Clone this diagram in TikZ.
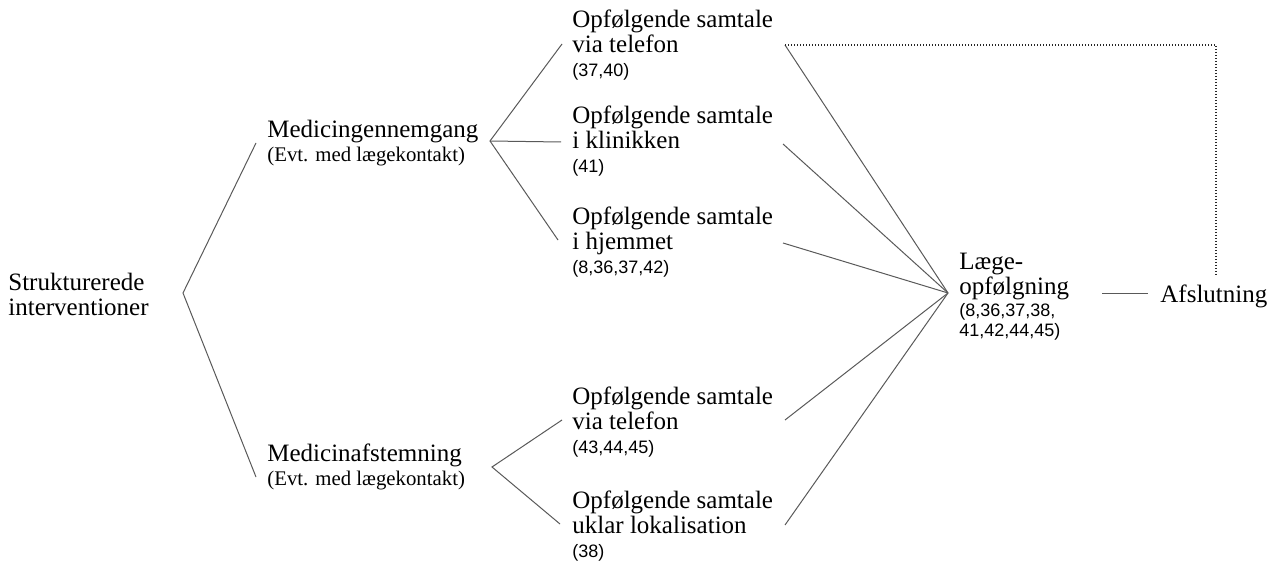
\documentclass[tikz,border=0pt]{standalone}
\usepackage{fontspec}
\setmainfont{Liberation Serif}
\setsansfont{Liberation Sans}
\usepackage{tikz}
\tikzset{
    txt/.style={anchor=base west, inner sep=0pt, align=left,
        font=\fontsize{12.5}{12.5}\selectfont},
    link/.style={draw=black!65, line width=0.5pt},
    back/.style={draw=black!85, line width=0.8pt, dash pattern=on 0.6pt off 0.9pt}
}
\newcommand*{\refs}{\sffamily\fontsize{9}{10}\selectfont}
\newcommand*{\evt}{\fontsize{10.4}{10}\selectfont}

\begin{document}
\begin{tikzpicture}[x=0.5pt, y=-0.5pt]
    \useasboundingbox (0,0) rectangle (1268,561);
    % nodes (placed at the baseline of their last line)
    \node[txt](root)at(8, 315){Strukturerede\\interventioner};
    \node[txt](mgg)at(267, 162){Medicingennemgang\\[-0.5pt]{\evt (Evt. med lægekontakt)}};
    \node[txt](maf)at(267, 485){Medicinafstemning\\[-0.5pt]{\evt (Evt. med lægekontakt)}};
    \node[txt](tel1)at(572, 77){Opfølgende samtale\\via telefon\\[-0.5pt]{\refs (37,40)}};
    \node[txt](kli)at(572, 173){Opfølgende samtale\\i klinikken\\[-0.5pt]{\refs (41)}};
    \node[txt](hje)at(572, 273){Opfølgende samtale\\i hjemmet\\[-0.5pt]{\refs (8,36,37,42)}};
    \node[txt](tel2)at(572, 453){Opfølgende samtale\\via telefon\\[-0.5pt]{\refs (43,44,45)}};
    \node[txt](ukl)at(572, 557){Opfølgende samtale\\uklar lokalisation\\[-0.5pt]{\refs (38)}};
    \node[txt](laege)at(959, 336){Læge-\\opfølgning\\[-1.5pt]{\refs (8,36,37,38,}\\[-2.5pt]{\refs 41,42,44,45)}};
    \node[txt](afs)at(1160, 302){Afslutning};
    % connector ends
    \coordinate(root-out)at(183, 293);
    \coordinate(mgg-in)at(256, 143);
    \coordinate(maf-in)at(256, 477);
    \coordinate(mgg-out)at(490, 141);
    \coordinate(maf-out)at(492, 467);
    \coordinate(tel1-in)at(562, 44);
    \coordinate(kli-in)at(561, 142);
    \coordinate(hje-in)at(558, 240);
    \coordinate(tel2-in)at(562, 420);
    \coordinate(ukl-in)at(560, 524);
    \coordinate(tel1-out)at(785, 45);
    \coordinate(kli-out)at(783, 144);
    \coordinate(hje-out)at(783, 243);
    \coordinate(tel2-out)at(785, 420);
    \coordinate(ukl-out)at(785, 525);
    \coordinate(laege-in)at(948, 293);
    \coordinate(laege-out)at(1102, 293);
    \coordinate(afs-in)at(1148, 293);
    \coordinate(afs-up)at(1216, 275);
    % connectors
    \draw[link](mgg-in)--(root-out)--(maf-in);
    \draw[link](tel1-in)--(mgg-out)--(hje-in);
    \draw[link](mgg-out)--(kli-in);
    \draw[link](tel2-in)--(maf-out)--(ukl-in);
    \foreach \n in {tel1, kli, hje, tel2, ukl}
        \draw[link](\n-out)--(laege-in);
    \draw[link](laege-out)--(afs-in);
    \draw[back](tel1-out)-|(afs-up);
\end{tikzpicture}
\end{document}
